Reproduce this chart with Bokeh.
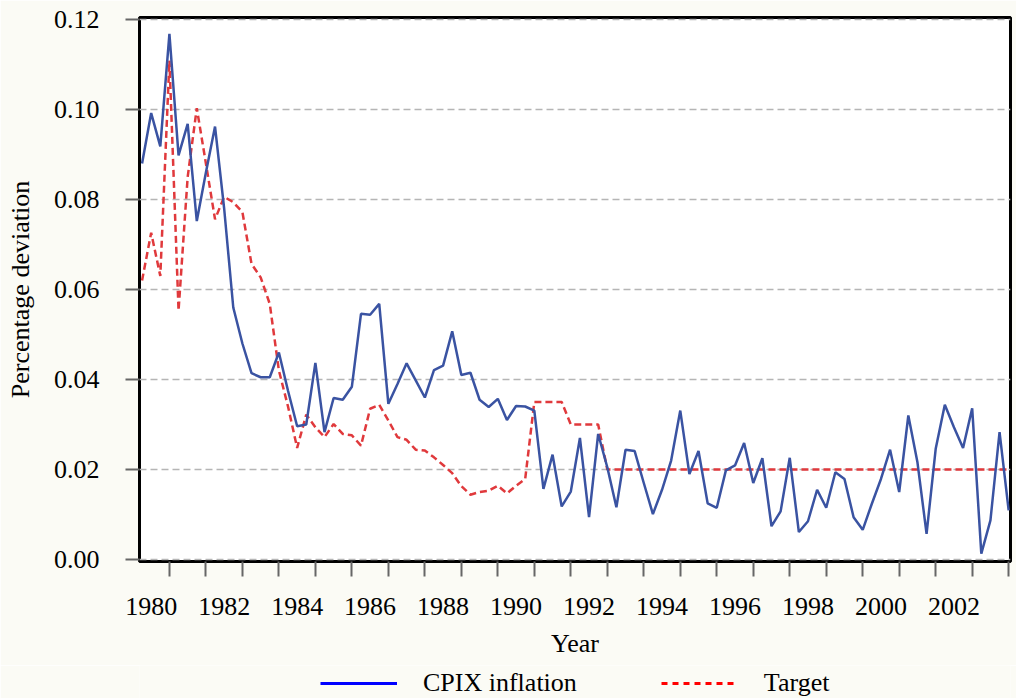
import numpy as np
from bokeh.plotting import figure
from bokeh.layouts import column
from bokeh.models import (FixedTicker, Legend, LegendItem, NumeralTickFormatter,
                          Range1d, ColumnDataSource)
from bokeh.embed import file_html
from bokeh.resources import INLINE

# ---------------- data (quarterly, first quarter plotted at 1980.25) ----------------
start_year = 1980.25

cpix_inflation = [
    0.0880, 0.0992, 0.0918, 0.1168, 0.0898, 0.0968, 0.0752, 0.0860, 0.0962, 0.0780,
    0.0560, 0.0480, 0.0414, 0.0405, 0.0405, 0.0460, 0.0375, 0.0296, 0.0300, 0.0437,
    0.0283, 0.0359, 0.0355, 0.0384, 0.0546, 0.0544, 0.0568, 0.0346, 0.0390, 0.0436,
    0.0398, 0.0360, 0.0421, 0.0431, 0.0507, 0.0410, 0.0415, 0.0355, 0.0339, 0.0357,
    0.0310, 0.0341, 0.0340, 0.0331, 0.0157, 0.0233, 0.0118, 0.0151, 0.0270, 0.0094,
    0.0279, 0.0205, 0.0116, 0.0244, 0.0241, 0.0170, 0.0101, 0.0155, 0.0220, 0.0331,
    0.0190, 0.0241, 0.0125, 0.0115, 0.0198, 0.0209, 0.0259, 0.0170, 0.0225, 0.0074,
    0.0107, 0.0226, 0.0061, 0.0085, 0.0155, 0.0115, 0.0194, 0.0179, 0.0094, 0.0066,
    0.0124, 0.0179, 0.0244, 0.0150, 0.0320, 0.0216, 0.0057, 0.0246, 0.0344, 0.0294,
    0.0248, 0.0336, 0.0013, 0.0087, 0.0283, 0.0109,
]

target = [
    0.0620, 0.0726, 0.0630, 0.1109, 0.0553, 0.0850, 0.1003, 0.0880, 0.0756, 0.0806,
    0.0794, 0.0772, 0.0657, 0.0627, 0.0568, 0.0420, 0.0340, 0.0248, 0.0322, 0.0294,
    0.0272, 0.0301, 0.0279, 0.0276, 0.0253, 0.0335, 0.0344, 0.0309, 0.0272, 0.0266,
    0.0244, 0.0242, 0.0227, 0.0210, 0.0192, 0.0163, 0.0144, 0.0150, 0.0153, 0.0164,
    0.0147, 0.0164, 0.0179, 0.0350, 0.0350, 0.0350, 0.0350, 0.0300, 0.0300, 0.0300,
    0.0300, 0.0200, 0.0200, 0.0200, 0.0200, 0.0200, 0.0200, 0.0200, 0.0200, 0.0200,
    0.0200, 0.0200, 0.0200, 0.0200, 0.0200, 0.0200, 0.0200, 0.0200, 0.0200, 0.0200,
    0.0200, 0.0200, 0.0200, 0.0200, 0.0200, 0.0200, 0.0200, 0.0200, 0.0200, 0.0200,
    0.0200, 0.0200, 0.0200, 0.0200, 0.0200, 0.0200, 0.0200, 0.0200, 0.0200, 0.0200,
    0.0200, 0.0200, 0.0200, 0.0200, 0.0200, 0.0200,
]

x_label_pos = [1980.5, 1982.5, 1984.5, 1986.5, 1988.5, 1990.5,
               1992.5, 1994.5, 1996.5, 1998.5, 2000.5, 2002.5]
x_labels = ["1980", "1982", "1984", "1986", "1988", "1990",
            "1992", "1994", "1996", "1998", "2000", "2002"]
x_year_ticks = [1981, 1982, 1983, 1984, 1985, 1986, 1987, 1988, 1989, 1990, 1991, 1992,
                1993, 1994, 1995, 1996, 1997, 1998, 1999, 2000, 2001, 2002, 2003, 2004]
y_ticks = [0.00, 0.02, 0.04, 0.06, 0.08, 0.10, 0.12]

quarters = start_year + 0.25 * np.arange(len(cpix_inflation))
src = ColumnDataSource(dict(x=quarters, cpix=cpix_inflation, target=target))

FONT = "Liberation Serif"
FS = "26px"
BG = "#fbfbf5"

p = figure(width=1016, height=665, output_backend="svg", toolbar_location=None,
           x_range=Range1d(1980.18, 2004.05), y_range=Range1d(-0.00044, 0.12044),
           min_border_left=139, min_border_right=6, min_border_top=17,
           min_border_bottom=104)

p.background_fill_color = "white"
p.border_fill_color = BG
p.outline_line_color = "black"
p.outline_line_width = 3

# grid
p.xgrid.visible = False
p.ygrid.ticker = FixedTicker(ticks=y_ticks)
p.ygrid.grid_line_color = "#b5b5b5"
p.ygrid.grid_line_dash = "7 4"
p.ygrid.grid_line_width = 1.5

# data lines
p.line("x", "target", source=src, line_color="#e0393c", line_width=2.5, line_dash="7 4")
p.line("x", "cpix", source=src, line_color="#3a53a2", line_width=2.5)

# x axis
xa = p.xaxis[0]
xa.ticker = FixedTicker(ticks=x_label_pos, minor_ticks=x_year_ticks)
xa.major_label_overrides = dict(zip(x_label_pos, x_labels))
xa.major_tick_line_color = None
xa.major_tick_out = 15
xa.major_tick_in = 0
xa.minor_tick_out = 15
xa.minor_tick_in = 0
xa.minor_tick_line_color = "#666666"
xa.minor_tick_line_width = 2
xa.axis_line_color = None
xa.major_label_standoff = 21
xa.major_label_text_font = FONT
xa.major_label_text_font_size = FS
xa.major_label_text_color = "black"
xa.axis_label = "Year"
xa.axis_label_text_font = FONT
xa.axis_label_text_font_size = FS
xa.axis_label_text_font_style = "normal"
xa.axis_label_text_color = "black"
xa.axis_label_standoff = 11

# y axis
ya = p.yaxis[0]
ya.ticker = FixedTicker(ticks=y_ticks)
ya.formatter = NumeralTickFormatter(format="0.00")
ya.major_tick_out = 14
ya.major_tick_in = 0
ya.major_tick_line_color = "#666666"
ya.major_tick_line_width = 2
ya.minor_tick_line_color = None
ya.axis_line_color = None
ya.major_label_standoff = 26
ya.major_label_text_font = FONT
ya.major_label_text_font_size = FS
ya.major_label_text_color = "black"
ya.axis_label = "Percentage deviation"
ya.axis_label_text_font = FONT
ya.axis_label_text_font_size = FS
ya.axis_label_text_font_style = "normal"
ya.axis_label_text_color = "black"
ya.axis_label_standoff = 16

# ---------------- legend strip below the chart ----------------
pl = figure(width=1016, height=33, output_backend="svg", toolbar_location=None,
            x_axis_type=None, y_axis_type=None, min_border=0,
            x_range=Range1d(0, 1), y_range=Range1d(0, 1))
pl.outline_line_color = None
pl.background_fill_color = BG
pl.border_fill_color = BG

nan_src = ColumnDataSource(dict(x=[np.nan], y=[np.nan]))
leg_cpix = pl.line("x", "y", source=nan_src, line_color="#0000ff", line_width=3)
leg_target = pl.line("x", "y", source=nan_src, line_color="#ff0000", line_width=3,
                     line_dash="6 5")
legend = Legend(items=[LegendItem(label="CPIX inflation", renderers=[leg_cpix]),
                       LegendItem(label="Target", renderers=[leg_target])],
                orientation="horizontal", location=(181, 0),
                glyph_width=77, glyph_height=20, label_standoff=26, spacing=84,
                label_text_font=FONT, label_text_font_size=FS, label_text_color="black",
                background_fill_alpha=0, border_line_color=None, padding=0, margin=0)
pl.add_layout(legend)

layout = column(p, pl, spacing=0)
open("out.html", "w").write(file_html(layout, INLINE))
